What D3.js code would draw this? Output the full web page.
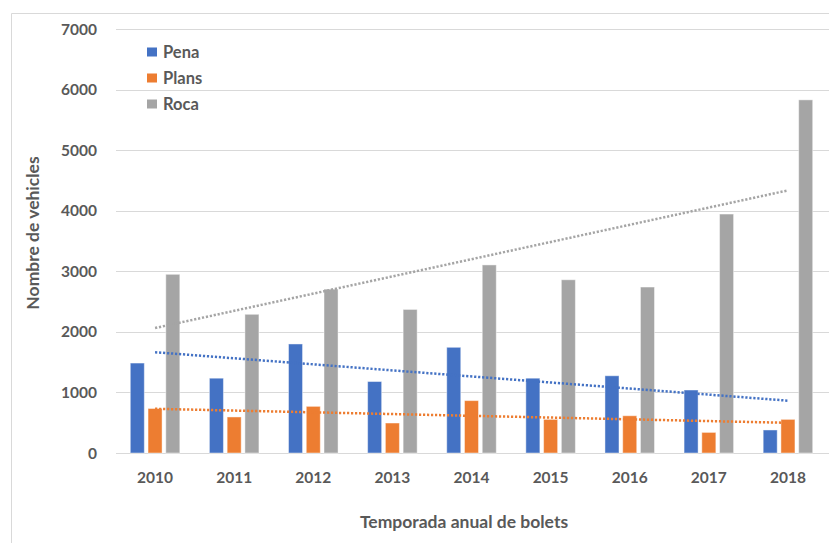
<!DOCTYPE html>
<html>
<head>
<meta charset="utf-8">
<script src="https://cdn.jsdelivr.net/npm/d3@7"></script>
<style>
  body { margin: 0; background: #fff; }
</style>
</head>
<body>
<div id="chart"></div>
<script>
// data
var years = ['2010', '2011', '2012', '2013', '2014', '2015', '2016', '2017', '2018'];
var seriesNames = ['Pena', 'Plans', 'Roca'];
var colors = ['#4472C4', '#ED7D31', '#A5A5A5'];
var pena = [1485, 1235, 1800, 1180, 1745, 1235, 1275, 1040, 380];
var plans = [735, 595, 770, 495, 865, 555, 615, 340, 555];
var roca = [2950, 2290, 2705, 2370, 3105, 2860, 2740, 3945, 5830];
var yTicks = [0, 1000, 2000, 3000, 4000, 5000, 6000, 7000];

var series = [pena, plans, roca];

var width = 829, height = 543;
var svg = d3.select('#chart').append('svg')
    .attr('width', width)
    .attr('height', height)
    .style('font-family', 'Lato, "Open Sans", sans-serif')
    .style('font-weight', 'bold');

// outer chart frame (only top/left visible)
svg.append('path')
    .attr('d', 'M11.5,' + height + 'V13.5H' + width)
    .attr('fill', 'none')
    .attr('stroke', '#d9d9d9');

var x0 = d3.scaleBand()
    .domain(years)
    .range([115.5, 827.5])
    .paddingInner(0.374)
    .paddingOuter(0.187);

var x1 = d3.scaleBand()
    .domain(seriesNames)
    .range([0, x0.bandwidth()])
    .paddingInner(0.21)
    .paddingOuter(0);

var y = d3.scaleLinear()
    .domain([0, 7000])
    .range([453, 29]);

// gridlines
svg.append('g')
    .selectAll('line')
    .data(yTicks)
    .join('line')
    .attr('x1', 116)
    .attr('x2', width)
    .attr('y1', function(d) { return Math.round(y(d)) + 0.5; })
    .attr('y2', function(d) { return Math.round(y(d)) + 0.5; })
    .attr('stroke', '#d9d9d9')
    .attr('stroke-width', 1);

// y tick labels
svg.append('g')
    .selectAll('text')
    .data(yTicks)
    .join('text')
    .attr('x', 97)
    .attr('y', function(d) { return y(d); })
    .attr('dy', '0.36em')
    .attr('text-anchor', 'end')
    .attr('font-size', '15.5px')
    .attr('fill', '#595959')
    .text(function(d) { return d; });

// x tick labels
svg.append('g')
    .selectAll('text')
    .data(years)
    .join('text')
    .attr('x', function(d) { return x0(d) + x0.bandwidth() / 2; })
    .attr('y', 477)
    .attr('dy', '0.36em')
    .attr('text-anchor', 'middle')
    .attr('font-size', '15.5px')
    .attr('fill', '#595959')
    .text(function(d) { return d; });

// bars
var groups = svg.append('g')
    .selectAll('g')
    .data(years)
    .join('g')
    .attr('transform', function(d) { return 'translate(' + x0(d) + ',0)'; });

groups.selectAll('rect')
    .data(function(d, i) {
        return seriesNames.map(function(s, j) {
            return { name: s, value: series[j][i], color: colors[j] };
        });
    })
    .join('rect')
    .attr('x', function(d) { return x1(d.name); })
    .attr('y', function(d) { return y(d.value); })
    .attr('width', x1.bandwidth())
    .attr('height', function(d) { return y(0) - y(d.value); })
    .attr('fill', function(d) { return d.color; })
    .attr('stroke', '#ffffff')
    .attr('stroke-opacity', 0.45)
    .attr('stroke-width', 1);

// linear trendlines (least squares), drawn from first to last category centre
function trend(vals) {
    var n = vals.length;
    var mx = d3.mean(vals, function(v, i) { return i; });
    var my = d3.mean(vals);
    var num = 0, den = 0;
    vals.forEach(function(v, i) {
        num += (i - mx) * (v - my);
        den += (i - mx) * (i - mx);
    });
    var b = num / den;
    var a = my - b * mx;
    return [[0, a], [n - 1, a + b * (n - 1)]];
}

var line = d3.line()
    .x(function(d) { return x0(years[d[0]]) + x0.bandwidth() / 2; })
    .y(function(d) { return y(d[1]); });

series.forEach(function(vals, j) {
    svg.append('path')
        .attr('d', line(trend(vals)))
        .attr('fill', 'none')
        .attr('stroke', colors[j])
        .attr('stroke-width', 2.5)
        .attr('stroke-dasharray', '2.2,1.8');
});

// legend
var legend = svg.append('g')
    .selectAll('g')
    .data(seriesNames)
    .join('g')
    .attr('transform', function(d, i) { return 'translate(147,' + (52 + i * 26) + ')'; });

legend.append('rect')
    .attr('x', 0)
    .attr('y', -4.5)
    .attr('width', 10)
    .attr('height', 9)
    .attr('fill', function(d, i) { return colors[i]; });

legend.append('text')
    .attr('x', 16)
    .attr('y', 0)
    .attr('dy', '0.36em')
    .attr('font-size', '16.5px')
    .attr('fill', '#595959')
    .text(function(d) { return d; });

// axis titles
svg.append('text')
    .attr('transform', 'translate(33,233) rotate(-90)')
    .attr('dy', '0.36em')
    .attr('text-anchor', 'middle')
    .attr('font-size', '17.5px')
    .attr('fill', '#595959')
    .text('Nombre de vehicles');

svg.append('text')
    .attr('x', 464)
    .attr('y', 522)
    .attr('dy', '0.36em')
    .attr('text-anchor', 'middle')
    .attr('font-size', '17.5px')
    .attr('fill', '#595959')
    .text('Temporada anual de bolets');
</script>
</body>
</html>
